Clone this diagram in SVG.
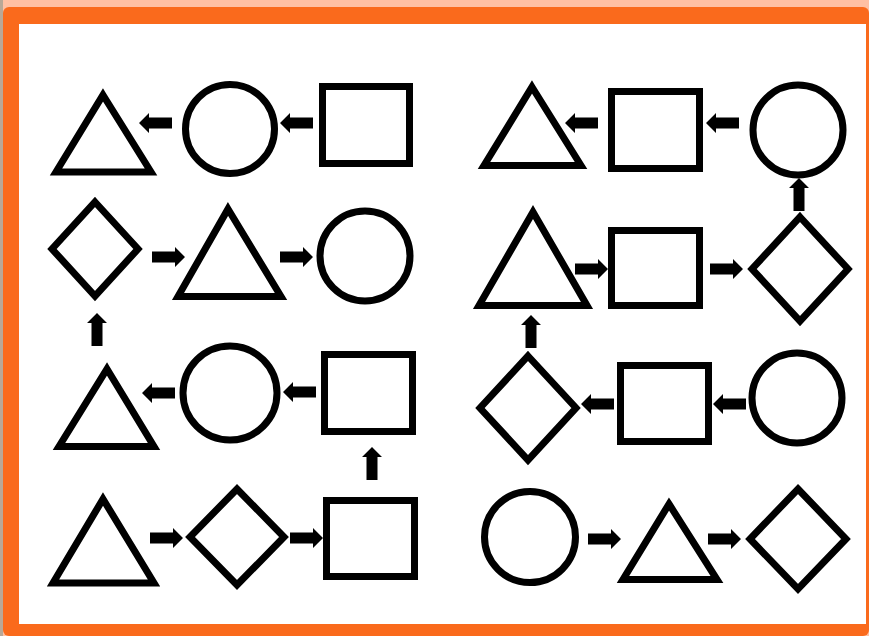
<svg xmlns="http://www.w3.org/2000/svg" width="869" height="636" viewBox="0 0 869 636">
<style>
.s{fill:#fff;stroke:#000;stroke-width:7;stroke-linejoin:miter}
.a{fill:#000}
</style>
<defs>
<path id="arr" d="M0,-5.5 H23 V-10 L33,0 L23,10 V5.5 H0 Z"/>
</defs>
<rect x="0" y="0" width="869" height="636" fill="#FFC0A3"/>
<rect x="0" y="0" width="3" height="636" fill="#B9A897"/>
<rect x="3" y="7" width="866" height="629" rx="6" fill="#FA6A1C"/>
<rect x="19" y="24" width="847" height="600" fill="#fff"/>
<g id="connectors" class="a">
<use href="#arr" transform="translate(172,123) rotate(180)"/>
<use href="#arr" transform="translate(313,123) rotate(180)"/>
<use href="#arr" transform="translate(152,257)"/>
<use href="#arr" transform="translate(280,257)"/>
<use href="#arr" transform="translate(97,346) rotate(-90)"/>
<use href="#arr" transform="translate(175,393) rotate(180)"/>
<use href="#arr" transform="translate(316,392) rotate(180)"/>
<use href="#arr" transform="translate(372,480) rotate(-90)"/>
<use href="#arr" transform="translate(150,538)"/>
<use href="#arr" transform="translate(290,538)"/>
<use href="#arr" transform="translate(598,123) rotate(180)"/>
<use href="#arr" transform="translate(739,123) rotate(180)"/>
<use href="#arr" transform="translate(799,211) rotate(-90)"/>
<use href="#arr" transform="translate(575,269)"/>
<use href="#arr" transform="translate(710,269)"/>
<use href="#arr" transform="translate(531,348) rotate(-90)"/>
<use href="#arr" transform="translate(614,404) rotate(180)"/>
<use href="#arr" transform="translate(746,404) rotate(180)"/>
<use href="#arr" transform="translate(588,539)"/>
<use href="#arr" transform="translate(708,539)"/>
</g>
<g id="n1"><path class="s" d="M103,95 L151,172 L56,172 Z"/></g>
<g id="n2"><circle class="s" cx="230" cy="129" r="44.5"/></g>
<g id="n3"><rect class="s" x="322.5" y="86.5" width="87" height="77"/></g>
<g id="n4"><path class="s" d="M532,87 L581,165.5 L484,165.5 Z"/></g>
<g id="n5"><rect class="s" x="611.5" y="91.5" width="88" height="77"/></g>
<g id="n6"><circle class="s" cx="798" cy="130" r="45"/></g>
<g id="n7"><path class="s" d="M95,202 L138,249 L95,296 L52,249 Z"/></g>
<g id="n8"><path class="s" d="M228,209 L281,296.5 L178,296.5 Z"/></g>
<g id="n9"><circle class="s" cx="365" cy="256" r="45"/></g>
<g id="n10"><path class="s" d="M533,212 L587,305.5 L479,305.5 Z"/></g>
<g id="n11"><rect class="s" x="611.5" y="230.5" width="88" height="75"/></g>
<g id="n12"><path class="s" d="M800,217 L848,269 L800,321 L752,269 Z"/></g>
<g id="n13"><path class="s" d="M107,369 L154,446.5 L59,446.5 Z"/></g>
<g id="n14"><circle class="s" cx="230" cy="393" r="47"/></g>
<g id="n15"><rect class="s" x="324.5" y="354.5" width="88" height="77"/></g>
<g id="n16"><path class="s" d="M528,356 L576,408 L528,460 L480,408 Z"/></g>
<g id="n17"><rect class="s" x="620.5" y="365.5" width="88" height="76"/></g>
<g id="n18"><circle class="s" cx="797" cy="398" r="45"/></g>
<g id="n19"><path class="s" d="M103,499 L154,583 L53,583 Z"/></g>
<g id="n20"><path class="s" d="M237,489 L284,537 L237,585 L190,537 Z"/></g>
<g id="n21"><rect class="s" x="326.5" y="500.5" width="88" height="76"/></g>
<g id="n22"><circle class="s" cx="530" cy="537" r="45.5"/></g>
<g id="n23"><path class="s" d="M669,504 L717,579.5 L623,579.5 Z"/></g>
<g id="n24"><path class="s" d="M798,489 L846,539 L798,589 L750,539 Z"/></g>
</svg>
